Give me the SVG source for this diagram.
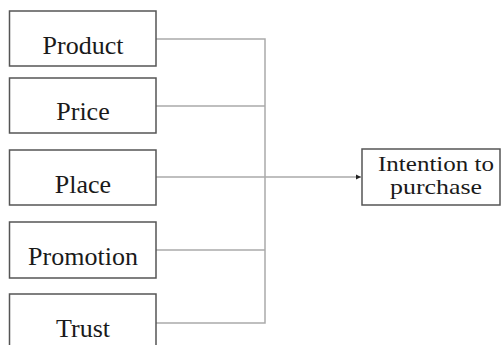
<svg xmlns="http://www.w3.org/2000/svg" width="502" height="345" viewBox="0 0 502 345">
<style>
.box{fill:#fff;stroke:#555;stroke-width:1.5}
.lbl{font-family:"Liberation Serif",serif;font-size:26px;fill:#1a1a1a;text-anchor:middle}
.tl{font-family:"Liberation Serif",serif;font-size:21px;fill:#1a1a1a;text-anchor:middle}
.con{fill:none;stroke:#aaa;stroke-width:1.5}
</style>
<defs>
<marker id="arr" markerWidth="6" markerHeight="6" refX="5" refY="3" orient="auto" markerUnits="userSpaceOnUse">
<path d="M0,0.5 L5,3 L0,5.5 Z" fill="#222"/>
</marker>
</defs>
<rect width="502" height="345" fill="#fff"/>
<g id="connectors">
<path class="con" d="M156,39 H265 V323 H156"/>
<path class="con" d="M156,106 H265"/>
<path class="con" d="M156,250 H265"/>
<path class="con" d="M156,177 H361" marker-end="url(#arr)"/>
</g>
<g id="product"><rect class="box" x="9.5" y="11" width="146.5" height="55"/><text class="lbl" x="83" y="54">Product</text></g>
<g id="price"><rect class="box" x="9.5" y="78" width="146.5" height="55"/><text class="lbl" x="83" y="120">Price</text></g>
<g id="place"><rect class="box" x="9.5" y="150" width="146.5" height="55"/><text class="lbl" x="83" y="193">Place</text></g>
<g id="promotion"><rect class="box" x="9.5" y="222" width="146.5" height="56"/><text class="lbl" x="83" y="265">Promotion</text></g>
<g id="trust"><rect class="box" x="9.5" y="294" width="146.5" height="60"/><text class="lbl" x="83" y="337">Trust</text></g>
<g id="intention"><rect class="box" x="362" y="149" width="138" height="56"/><text class="tl" x="436" y="171" textLength="116" lengthAdjust="spacingAndGlyphs">Intention to</text><text class="tl" x="436" y="194" textLength="92" lengthAdjust="spacingAndGlyphs">purchase</text></g>
</svg>
